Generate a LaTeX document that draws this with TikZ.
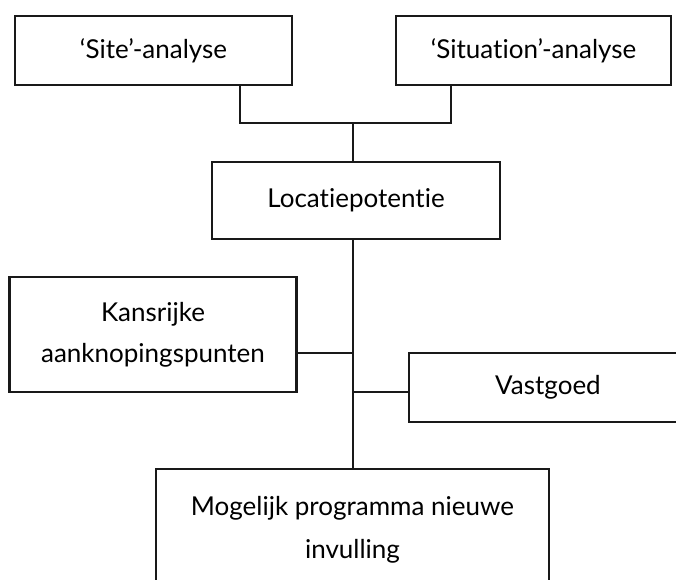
\documentclass[tikz,border=0pt]{standalone}
\usepackage{fontspec}
\setmainfont{Lato}[Ligatures={NoCommon}]
\begin{document}
\begin{tikzpicture}[x=1pt,y=-1pt,
  box/.style={draw=black!90,line width=2.2pt,fill=white,inner sep=0pt,align=center,
    font=\fontsize{26}{41}\selectfont,text=black},
  conn/.style={draw=black!90,line width=1.7pt}]
\useasboundingbox (0,0) rectangle (676,579);
\clip (0,0) rectangle (676,579);
\node[box,minimum width=277pt,minimum height=69pt] (site) at (153.5,50.5) {‘Site’-analyse};
\node[box,minimum width=275pt,minimum height=69pt] (sit) at (533.5,50.5) {‘Situation’-analyse};
\node[box,minimum width=288pt,minimum height=77pt] (loc) at (356,200.5) {Locatiepotentie};
\node[box,minimum width=287pt,minimum height=115pt] (kan) at (153,334.5) {Kansrijke\\aanknopingspunten};
\node[box,minimum width=278pt,minimum height=69pt] (vas) at (548,387.5) {Vastgoed};
\node[box,minimum width=393pt,minimum height=122pt,font=\fontsize{26}{43}\selectfont] (mog) at (352.5,530) {Mogelijk programma nieuwe\\invulling};
\coordinate (j) at (353,123);
\draw[conn] ([xshift=86.5pt]site.south) |- (j) -| ([xshift=-82.5pt]sit.south);
\draw[conn] (j) -- (loc.north -| j);
\draw[conn] (loc.south -| j) -- (mog.north -| j);
\draw[conn] ([yshift=-18.5pt]kan.east) -- ([yshift=-18.5pt]kan.east -| j);
\draw[conn] ([yshift=-4.5pt]vas.west) -- ([yshift=-4.5pt]vas.west -| j);
\end{tikzpicture}
\end{document}
